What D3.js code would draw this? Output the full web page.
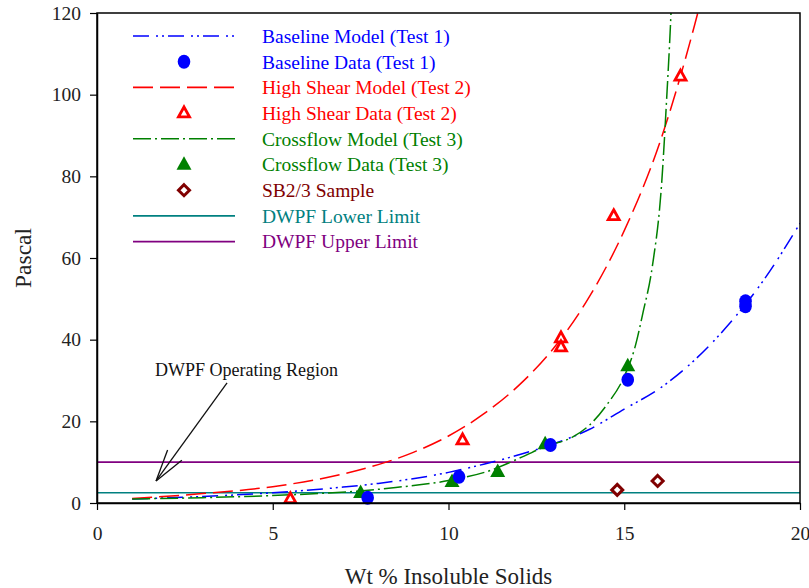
<!DOCTYPE html>
<html><head><meta charset="utf-8">
<script src="https://cdn.jsdelivr.net/npm/d3@7"></script>
<style>
body{margin:0;background:#fff;}
text{font-family:"Liberation Serif","Times New Roman",serif;}
</style>
</head><body>
<svg id="chart" width="809" height="588"></svg>
<script>
// ---- Data ----
const xTicks = [0, 5, 10, 15, 20];
const yTicks = [0, 20, 40, 60, 80, 100, 120];

const baselineModelX = [1, 3, 5, 7, 8, 10, 11, 12, 13, 14, 15, 16, 17, 18, 19, 20];
const baselineModelY = [1.0, 1.6, 2.5, 3.9, 4.8, 7.5, 9.5, 11.8, 14.5, 18, 23, 28, 35, 44, 55, 68.5];

const highShearModelX = [1, 3, 5, 7, 8, 9, 10, 11, 12, 13, 14, 15, 16, 17, 17.3];
const highShearModelY = [1.1, 2.3, 4.0, 7.1, 9.4, 12.4, 16.4, 21.8, 28.8, 38, 50.4, 66.7, 88, 117, 127];

const crossflowModelX = [1, 3, 5.5, 7.4, 8.5, 10, 11.2, 12.1, 12.8, 13.5, 14, 14.5, 15, 15.3, 15.53, 15.8, 16.07, 16.2, 16.33, 16.42];
const crossflowModelY = [1.0, 1.3, 2.0, 2.9, 3.8, 5.5, 8.0, 11.3, 14.0, 16.0, 19.0, 24.0, 31, 38, 46.5, 58, 79, 98, 120, 140];

const baselineDataX = [7.7, 10.3, 12.9, 15.1, 18.45, 18.45];
const baselineDataY = [1.3, 6.4, 14.2, 30.2, 48.2, 49.4];

const highShearDataX = [5.5, 10.4, 13.2, 13.2, 14.7, 16.6];
const highShearDataY = [1.0, 15.4, 40.4, 38.2, 70.3, 104.5];

const crossflowDataX = [7.5, 10.1, 11.4, 12.75, 15.1];
const crossflowDataY = [2.5, 5.2, 7.6, 14.4, 33.5];

const sampleDataX = [14.8, 15.95];
const sampleDataY = [3.2, 5.4];

const lowerLimit = 2.5;
const upperLimit = 10;

const legendLabels = [
  "Baseline Model (Test 1)", "Baseline Data (Test 1)",
  "High Shear Model (Test 2)", "High Shear Data (Test 2)",
  "Crossflow Model (Test 3)", "Crossflow Data (Test 3)",
  "SB2/3 Sample", "DWPF Lower Limit", "DWPF Upper Limit"
];
const annotationText = "DWPF Operating Region";
const annotationPos = {textX: 1.65, textY: 31.1, fromX: 3.7, fromY: 29.4, toX: 1.68, toY: 5.4};

// ---- Styles ----
const C = {blue:"#0000ff", red:"#ff0000", green:"#008000", maroon:"#800000", teal:"#008080", purple:"#800080"};
const dashBase = "16,7,2,4,2,4";
const dashRed = "20,7";
const dashGreen = "18,4,2,4";

const W = 809, H = 588;
const m = {left:97, right:9, top:13, bottom:85};
const svg = d3.select("#chart");

const x = d3.scaleLinear().domain([0,20]).range([m.left, W - m.right]);
const y = d3.scaleLinear().domain([0,120]).range([H - m.bottom, m.top]);

svg.append("defs").append("clipPath").attr("id","plotclip")
  .append("rect").attr("x", x(0)).attr("y", y(120)).attr("width", x(20)-x(0)).attr("height", y(0)-y(120));

const plot = svg.append("g").attr("clip-path","url(#plotclip)");

// limit lines
plot.append("line").attr("x1", x(0)).attr("x2", x(20)).attr("y1", y(lowerLimit)).attr("y2", y(lowerLimit))
  .attr("stroke", C.teal).attr("stroke-width", 1.6);
plot.append("line").attr("x1", x(0)).attr("x2", x(20)).attr("y1", y(upperLimit)).attr("y2", y(upperLimit))
  .attr("stroke", C.purple).attr("stroke-width", 1.6);

const line = d3.line().x(d => x(d[0])).y(d => y(d[1])).curve(d3.curveMonotoneX);
function drawCurve(xs, ys, color, dash){
  plot.append("path").datum(d3.zip(xs, ys)).attr("d", line)
    .attr("fill","none").attr("stroke", color).attr("stroke-width", 1.5).attr("stroke-dasharray", dash);
}
drawCurve(baselineModelX, baselineModelY, C.blue, dashBase);
drawCurve(highShearModelX, highShearModelY, C.red, dashRed);
drawCurve(crossflowModelX, crossflowModelY, C.green, dashGreen);

// markers
function triPath(s){ const h = s*0.9; return `M0,${-h*0.62}L${s/2},${h*0.38}L${-s/2},${h*0.38}Z`; }
function diamondPath(s){ return `M0,${-s}L${s},0L0,${s}L${-s},0Z`; }

function drawCircle(g, cx, cy){ g.append("ellipse").attr("cx",cx).attr("cy",cy).attr("rx",6.3).attr("ry",7).attr("fill",C.blue); }
function drawOpenTri(g, cx, cy){ g.append("path").attr("d", triPath(11)).attr("transform",`translate(${cx},${cy})`)
  .attr("fill","#fff").attr("stroke",C.red).attr("stroke-width",2.8).attr("stroke-linejoin","miter"); }
function drawFilledTri(g, cx, cy){ g.append("path").attr("d", triPath(15)).attr("transform",`translate(${cx},${cy})`)
  .attr("fill",C.green); }
function drawDiamond(g, cx, cy){ g.append("path").attr("d", diamondPath(5.5)).attr("transform",`translate(${cx},${cy})`)
  .attr("fill","#fff").attr("stroke",C.maroon).attr("stroke-width",3); }

const marks = svg.append("g");
d3.zip(crossflowDataX, crossflowDataY).forEach(d => drawFilledTri(marks, x(d[0]), y(d[1])));
d3.zip(baselineDataX, baselineDataY).forEach(d => drawCircle(marks, x(d[0]), y(d[1])));
d3.zip(highShearDataX, highShearDataY).forEach(d => drawOpenTri(marks, x(d[0]), y(d[1])));
d3.zip(sampleDataX, sampleDataY).forEach(d => drawDiamond(marks, x(d[0]), y(d[1])));

// frame
svg.append("rect").attr("x", x(0)).attr("y", y(120)).attr("width", x(20)-x(0)).attr("height", y(0)-y(120))
  .attr("fill","none").attr("stroke","#000").attr("stroke-width",1.5);

// axes
const xAxis = svg.append("g").attr("transform",`translate(0,${y(0)})`)
  .call(d3.axisBottom(x).tickValues(xTicks).tickFormat(d3.format("d")).tickSizeInner(7).tickSizeOuter(0).tickPadding(16));
const yAxis = svg.append("g").attr("transform",`translate(${x(0)},0)`)
  .call(d3.axisLeft(y).tickValues(yTicks).tickFormat(d3.format("d")).tickSizeInner(7).tickSizeOuter(0).tickPadding(9));
[xAxis, yAxis].forEach(a => {
  a.selectAll("path.domain").attr("stroke","#000").attr("stroke-width",1.5);
  a.selectAll(".tick line").attr("stroke","#000").attr("stroke-width",1.2);
  a.selectAll("text").attr("font-family","Liberation Serif, serif").attr("font-size",19.5).attr("fill","#222");
});

// axis titles
svg.append("text").attr("x", (x(0)+x(20))/2).attr("y", 584).attr("text-anchor","middle")
  .attr("font-size",23).attr("fill","#222").text("Wt % Insoluble Solids");
svg.append("text").attr("transform",`translate(31,${(y(0)+y(120))/2}) rotate(-90)`).attr("text-anchor","middle")
  .attr("font-size",23.5).attr("fill","#222").text("Pascal");

// legend
const legend = svg.append("g");
const legRowY = i => 36 + i*25.7;
const lx0 = 133, lx1 = 235, lmx = 184, ltx = 262;
const legendColors = [C.blue, C.blue, C.red, C.red, C.green, C.green, C.maroon, C.teal, C.purple];
legendLabels.forEach((lab, i) => {
  const yy = legRowY(i);
  legend.append("text").attr("x", ltx).attr("y", yy).attr("dy","0.35em")
    .attr("font-size",19.5).attr("fill", legendColors[i]).text(lab);
});
function legLine(i, color, dash){
  legend.append("line").attr("x1",lx0).attr("x2",lx1).attr("y1",legRowY(i)).attr("y2",legRowY(i))
    .attr("stroke",color).attr("stroke-width",1.6).attr("stroke-dasharray",dash);
}
legLine(0, C.blue, dashBase);
drawCircle(legend, lmx, legRowY(1));
legLine(2, C.red, dashRed);
drawOpenTri(legend, lmx, legRowY(3));
legLine(4, C.green, dashGreen);
drawFilledTri(legend, lmx, legRowY(5));
drawDiamond(legend, lmx, legRowY(6));
legLine(7, C.teal, null);
legLine(8, C.purple, null);

// annotation
const ann = svg.append("g");
ann.append("text").attr("x", x(annotationPos.textX)).attr("y", y(annotationPos.textY))
  .attr("font-size",18).attr("fill","#111").text(annotationText);
const tx = x(annotationPos.toX), ty = y(annotationPos.toY);
const fx = x(annotationPos.fromX), fy = y(annotationPos.fromY);
ann.append("line").attr("x1",fx).attr("y1",fy).attr("x2",tx).attr("y2",ty).attr("stroke","#111").attr("stroke-width",1.3);
const ang = Math.atan2(fy-ty, fx-tx);
[-0.27, 0.27].forEach(da => {
  ann.append("line").attr("x1",tx).attr("y1",ty)
    .attr("x2", tx + 33*Math.cos(ang+da)).attr("y2", ty + 33*Math.sin(ang+da))
    .attr("stroke","#111").attr("stroke-width",1.3);
});
</script>
</body></html>
